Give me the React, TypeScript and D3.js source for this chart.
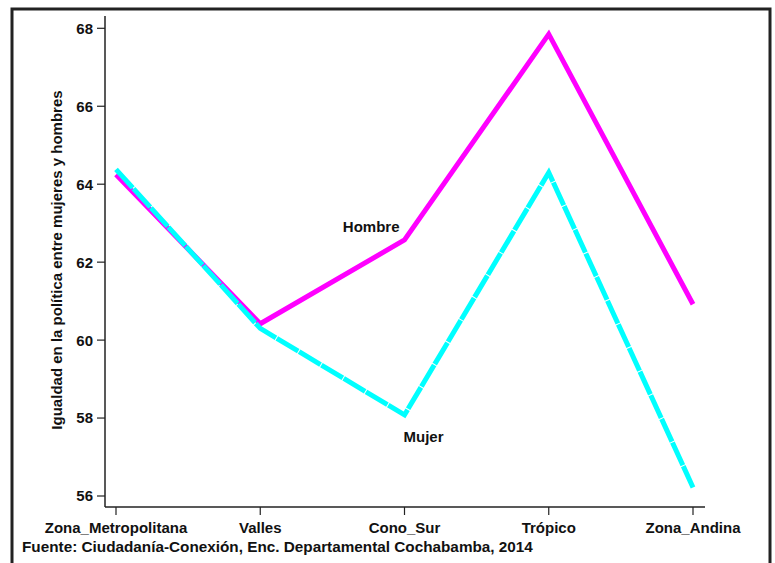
import React from "react";
import * as d3 from "d3";

const categories = ["Zona_Metropolitana", "Valles", "Cono_Sur", "Trópico", "Zona_Andina"];
const hombre = [64.25, 60.42, 62.57, 67.85, 60.92];
const mujer = [64.38, 60.3, 58.08, 64.3, 56.22];
const yTicks = [56, 58, 60, 62, 64, 66, 68];
const yLabel = "Igualdad en la política entre mujeres y hombres";
const source = "Fuente: Ciudadanía-Conexión, Enc. Departamental Cochabamba, 2014";

const W = 775;
const H = 563;
const font = "'Liberation Sans', Arial, sans-serif";

export default function App() {
  const x = d3.scalePoint<string>().domain(categories).range([116, 693]);
  const y = d3.scaleLinear().domain([56, 68]).range([496, 28.3]);
  const line = d3
    .line<number>()
    .x((_, i) => x(categories[i]) as number)
    .y((d) => y(d));

  const plotLeft = 105;
  const plotBottom = 507;
  const plotTop = 16;
  const plotRight = 705;

  return (
    <svg
      width={W}
      height={H}
      style={{ position: "absolute", left: 0, top: 0, background: "#fff" }}
      fontFamily={font}
    >
      <rect x={0} y={0} width={W} height={H} fill="#fff" />
      <rect x={12} y={9} width={758} height={600} fill="none" stroke="#222" strokeWidth={3} />
      {/* axes */}
      <line x1={plotLeft} x2={plotLeft} y1={plotTop} y2={plotBottom} stroke="#222" strokeWidth={1.5} />
      <line x1={plotLeft} x2={plotRight} y1={plotBottom} y2={plotBottom} stroke="#222" strokeWidth={1.5} />
      {yTicks.map((t) => (
        <g key={t}>
          <line x1={plotLeft - 8} x2={plotLeft} y1={y(t)} y2={y(t)} stroke="#222" strokeWidth={1.2} />
          <text
            x={plotLeft - 12}
            y={y(t)}
            dy="0.36em"
            textAnchor="end"
            fontSize={15}
            fontWeight="bold"
            fill="#111"
          >
            {t}
          </text>
        </g>
      ))}
      {categories.map((c) => (
        <g key={c}>
          <line x1={x(c)} x2={x(c)} y1={plotBottom} y2={plotBottom + 8} stroke="#222" strokeWidth={1.2} />
          <text
            x={x(c)}
            y={533}
            textAnchor="middle"
            fontSize={15}
            fontWeight="bold"
            fill="#111"
          >
            {c}
          </text>
        </g>
      ))}
      <text
        transform={`translate(62,260) rotate(-90)`}
        textAnchor="middle"
        fontSize={15}
        fontWeight="bold"
        fill="#111"
      >
        {yLabel}
      </text>
      <text x={22} y={552} fontSize={15.3} fontWeight="bold" fill="#111">
        {source}
      </text>
      {/* lines */}
      <path d={line(hombre) || ""} fill="none" stroke="#FF00FF" strokeWidth={5} strokeLinejoin="miter" />
      <path
        d={line(mujer) || ""}
        fill="none"
        stroke="#00FFFF"
        strokeWidth={5}
        strokeDasharray="25,1"
        strokeLinejoin="miter"
      />
      <text x={x("Cono_Sur")! - 5} y={232} textAnchor="end" fontSize={15} fontWeight="bold" fill="#111">
        Hombre
      </text>
      <text x={x("Cono_Sur")! - 1} y={442} textAnchor="start" fontSize={15} fontWeight="bold" fill="#111">
        Mujer
      </text>
    </svg>
  );
}
